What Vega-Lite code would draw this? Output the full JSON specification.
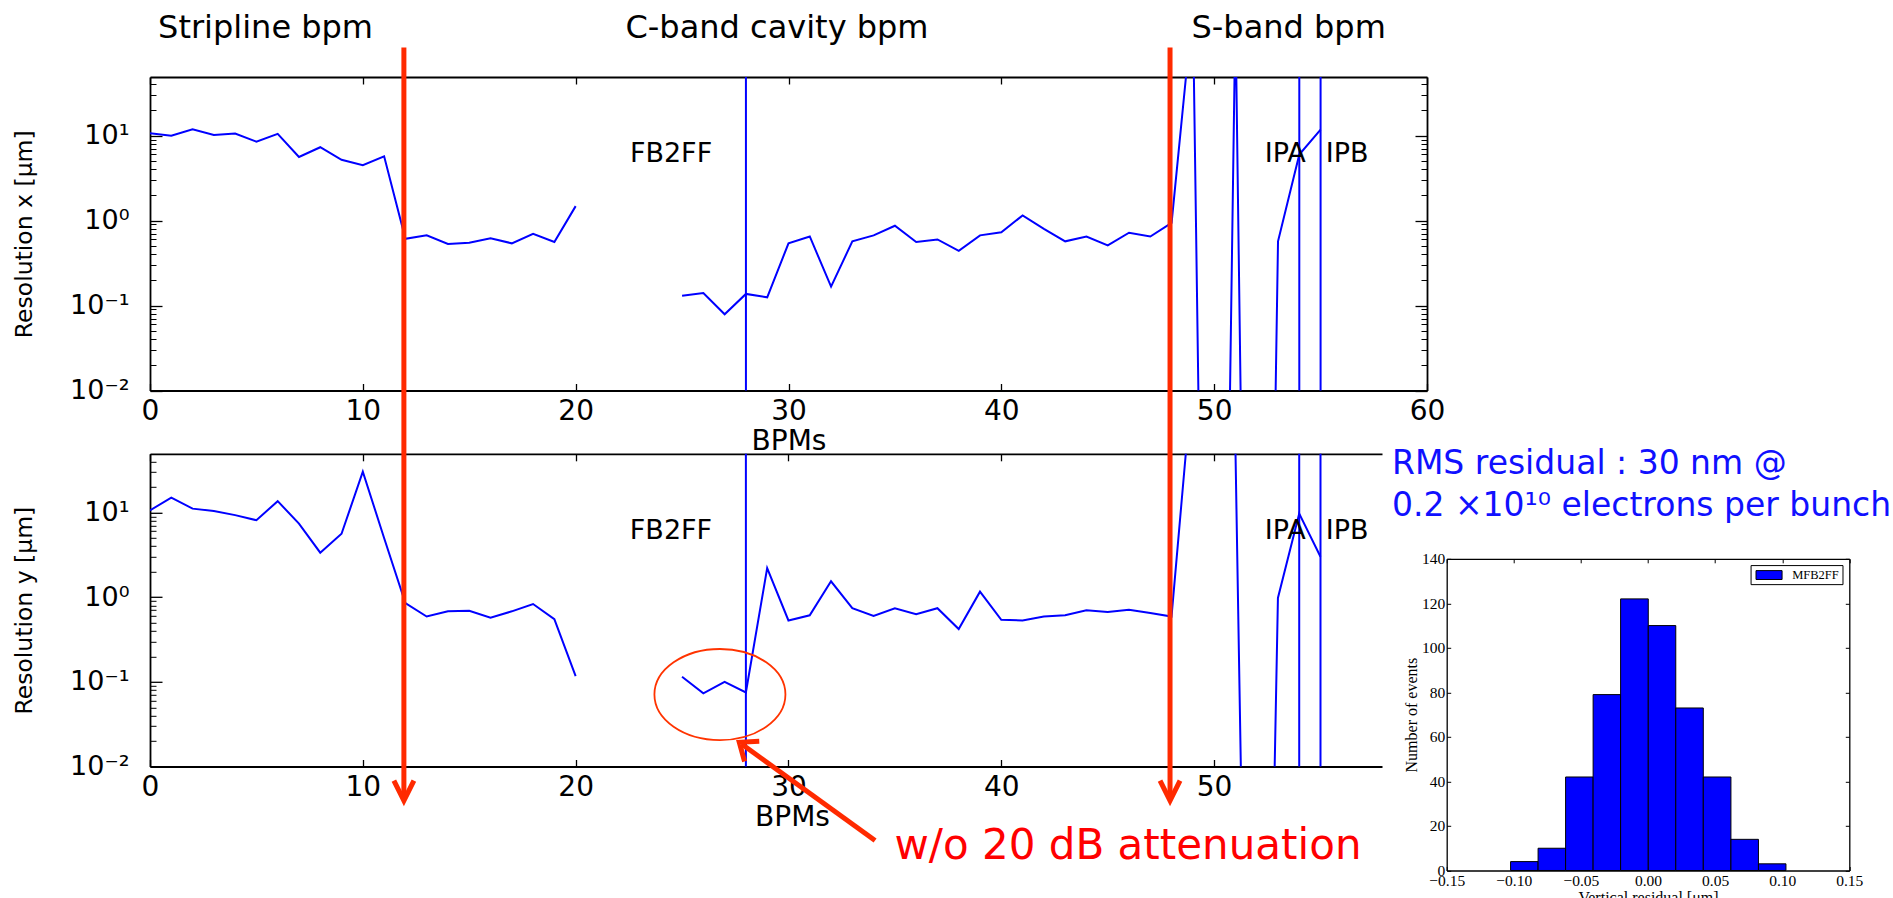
{
 "$schema": "https://vega.github.io/schema/vega-lite/v6.json",
 "background": "white",
 "padding": {"left": 12, "top": 12, "right": 0, "bottom": 0},
 "autosize": {"type": "pad"},
 "columns": 2,
 "spacing": {"row": 62.8, "column": 19.7},
 "bounds": "flush",
 "align": "each",
 "config": {
  "view": {"stroke": null},
  "axis": {"grid": false, "domainColor": "black", "domainWidth": 1.8, "tickColor": "black", "tickWidth": 1.3, "labelColor": "black", "titleColor": "black", "labelFont": "DejaVu Sans", "titleFont": "DejaVu Sans", "titleFontWeight": "normal", "labelOverlap": false, "labelFlush": false}
 },
 "concat": [
  {
   "width": 1277, "height": 313.5,
   "resolve": {"axis": {"x": "independent", "y": "independent"}},
   "layer": [
    {
     "data": {"values": [
      {"bpm":0,"res":10.7,"seg":"a"},{"bpm":1,"res":10.0,"seg":"a"},{"bpm":2,"res":11.9,"seg":"a"},{"bpm":3,"res":10.2,"seg":"a"},{"bpm":4,"res":10.6,"seg":"a"},{"bpm":5,"res":8.5,"seg":"a"},{"bpm":6,"res":10.5,"seg":"a"},{"bpm":7,"res":5.6,"seg":"a"},{"bpm":8,"res":7.3,"seg":"a"},{"bpm":9,"res":5.2,"seg":"a"},{"bpm":10,"res":4.5,"seg":"a"},{"bpm":11,"res":5.7,"seg":"a"},{"bpm":12,"res":0.61,"seg":"a"},{"bpm":13,"res":0.67,"seg":"a"},{"bpm":14,"res":0.53,"seg":"a"},{"bpm":15,"res":0.55,"seg":"a"},{"bpm":16,"res":0.62,"seg":"a"},{"bpm":17,"res":0.54,"seg":"a"},{"bpm":18,"res":0.70,"seg":"a"},{"bpm":19,"res":0.56,"seg":"a"},{"bpm":20,"res":1.48,"seg":"a"},
      {"bpm":25,"res":0.13,"seg":"b"},{"bpm":26,"res":0.14,"seg":"b"},{"bpm":27,"res":0.079,"seg":"b"},{"bpm":28,"res":0.137,"seg":"b"},{"bpm":29,"res":0.125,"seg":"b"},{"bpm":30,"res":0.54,"seg":"b"},{"bpm":31,"res":0.65,"seg":"b"},{"bpm":32,"res":0.167,"seg":"b"},{"bpm":33,"res":0.57,"seg":"b"},{"bpm":34,"res":0.67,"seg":"b"},{"bpm":35,"res":0.87,"seg":"b"},{"bpm":36,"res":0.56,"seg":"b"},{"bpm":37,"res":0.60,"seg":"b"},{"bpm":38,"res":0.44,"seg":"b"},{"bpm":39,"res":0.67,"seg":"b"},{"bpm":40,"res":0.73,"seg":"b"},{"bpm":41,"res":1.15,"seg":"b"},{"bpm":42,"res":0.80,"seg":"b"},{"bpm":43,"res":0.57,"seg":"b"},{"bpm":44,"res":0.65,"seg":"b"},{"bpm":45,"res":0.51,"seg":"b"},{"bpm":46,"res":0.72,"seg":"b"},{"bpm":47,"res":0.65,"seg":"b"},{"bpm":48,"res":0.94,"seg":"b"},{"bpm":49,"res":330,"seg":"b"},{"bpm":50,"res":1e-15,"seg":"b"},{"bpm":51,"res":280,"seg":"b"},{"bpm":52,"res":1e-16,"seg":"b"},{"bpm":53,"res":0.57,"seg":"b"},{"bpm":54,"res":6.0,"seg":"b"},{"bpm":55,"res":11.8,"seg":"b"}
     ]},
     "mark": {"type": "line", "color": "#0000ff", "strokeWidth": 2, "clip": true},
     "encoding": {
      "x": {"field": "bpm", "type": "quantitative", "scale": {"domain": [0, 60], "nice": false, "zero": false},
            "axis": {"orient": "bottom", "values": [0,10,20,30,40,50,60], "ticks": false, "labelFontSize": 28, "labelPadding": 7, "title": "BPMs", "titleFontSize": 28, "titlePadding": 2}},
      "y": {"field": "res", "type": "quantitative", "scale": {"type": "log", "domain": [0.01, 49], "nice": false},
            "axis": {"orient": "left", "values": [0.01,0.1,1,10], "labelExpr": "datum.value >= 5 ? '10¹' : datum.value >= 0.5 ? '10⁰' : datum.value >= 0.05 ? '10⁻¹' : '10⁻²'", "ticks": false, "labelFontSize": 27, "labelPadding": 21, "labelBaseline": "middle", "title": "Resolution x [μm]", "titleFontSize": 23.5, "titlePadding": 33}},
      "detail": {"field": "seg", "type": "nominal"}
     }
    },
    {
     "data": {"values": [{"bpm": 28}, {"bpm": 54}, {"bpm": 55}]},
     "mark": {"type": "rule", "color": "#0000ff", "strokeWidth": 2},
     "encoding": {"x": {"field": "bpm", "type": "quantitative", "scale": {"domain": [0, 60], "nice": false, "zero": false}, "axis": null}}
    },
    {
     "data": {"values": [{"bpm": 24.48, "res": 6.0, "t": "FB2FF"}, {"bpm": 53.34, "res": 6.0, "t": "IPA"}, {"bpm": 56.25, "res": 6.0, "t": "IPB"}]},
     "mark": {"type": "text", "font": "DejaVu Sans", "fontSize": 27, "color": "black", "align": "center", "baseline": "middle"},
     "encoding": {
      "x": {"field": "bpm", "type": "quantitative", "scale": {"domain": [0, 60], "nice": false, "zero": false}, "axis": null},
      "y": {"field": "res", "type": "quantitative", "scale": {"type": "log", "domain": [0.01, 49], "nice": false}, "axis": null},
      "text": {"field": "t"}
     }
    },
    {
     "data": {"values": [{"bpm": 5.43, "res": 141, "t": "Stripline bpm"}, {"bpm": 29.46, "res": 141, "t": "C-band cavity bpm"}, {"bpm": 53.5, "res": 141, "t": "S-band bpm"}]},
     "mark": {"type": "text", "font": "DejaVu Sans", "fontSize": 32, "color": "black", "align": "center", "baseline": "alphabetic"},
     "encoding": {
      "x": {"field": "bpm", "type": "quantitative", "scale": {"domain": [0, 60], "nice": false, "zero": false}, "axis": null},
      "y": {"field": "res", "type": "quantitative", "scale": {"type": "log", "domain": [0.01, 49], "nice": false}, "axis": null},
      "text": {"field": "t"}
     }
    },
    {
     "data": {"values": [{"bpm": 30, "res": 1}]},
     "mark": {"type": "point", "opacity": 0},
     "encoding": {
      "x": {"field": "bpm", "type": "quantitative", "scale": {"domain": [0, 60], "nice": false, "zero": false},
            "axis": {"orient": "bottom", "values": [0,10,20,30,40,50,60], "labels": false, "domain": false, "ticks": true, "tickSize": -7, "title": null}},
      "y": {"field": "res", "type": "quantitative", "scale": {"type": "log", "domain": [0.01, 49], "nice": false},
            "axis": {"orient": "left", "values": [0.01,0.1,1,10], "labels": false, "domain": false, "ticks": true, "tickSize": -12, "title": null}}
     }
    },
    {
     "data": {"values": [{"bpm": 30, "res": 1}]},
     "mark": {"type": "point", "opacity": 0},
     "encoding": {
      "x": {"field": "bpm", "type": "quantitative", "scale": {"domain": [0, 60], "nice": false, "zero": false},
            "axis": {"orient": "top", "values": [0,10,20,30,40,50,60], "labels": false, "domain": true, "ticks": true, "tickSize": -7, "title": null}},
      "y": {"field": "res", "type": "quantitative", "scale": {"type": "log", "domain": [0.01, 49], "nice": false},
            "axis": {"orient": "left", "values": [0.02,0.03,0.04,0.05,0.06,0.07,0.08,0.09,0.2,0.3,0.4,0.5,0.6,0.7,0.8,0.9,2,3,4,5,6,7,8,9,20,30,40], "labels": false, "domain": false, "ticks": true, "tickSize": -6, "tickWidth": 1, "title": null}}
     }
    },
    {
     "data": {"values": [{"bpm": 30, "res": 1}]},
     "mark": {"type": "point", "opacity": 0},
     "encoding": {
      "x": {"field": "bpm", "type": "quantitative", "scale": {"domain": [0, 60], "nice": false, "zero": false}, "axis": null},
      "y": {"field": "res", "type": "quantitative", "scale": {"type": "log", "domain": [0.01, 49], "nice": false},
            "axis": {"orient": "right", "values": [0.01,0.1,1,10], "labels": false, "domain": true, "ticks": true, "tickSize": -12, "title": null}}
     }
    },
    {
     "data": {"values": [{"bpm": 30, "res": 1}]},
     "mark": {"type": "point", "opacity": 0},
     "encoding": {
      "x": {"field": "bpm", "type": "quantitative", "scale": {"domain": [0, 60], "nice": false, "zero": false}, "axis": null},
      "y": {"field": "res", "type": "quantitative", "scale": {"type": "log", "domain": [0.01, 49], "nice": false},
            "axis": {"orient": "right", "values": [0.02,0.03,0.04,0.05,0.06,0.07,0.08,0.09,0.2,0.3,0.4,0.5,0.6,0.7,0.8,0.9,2,3,4,5,6,7,8,9,20,30,40], "labels": false, "domain": false, "ticks": true, "tickSize": -6, "tickWidth": 1, "title": null}}
     }
    }
   ]
  },
  {
   "width": 1, "height": 1,
   "data": {"values": [{"a": 0}]},
   "mark": {"type": "point", "opacity": 0}
  },
  {
   "width": 1232, "height": 312.7,
   "resolve": {"axis": {"x": "independent", "y": "independent"}},
   "layer": [
    {
     "data": {"values": [
      {"bpm":0,"res":10.6,"seg":"a"},{"bpm":1,"res":15.0,"seg":"a"},{"bpm":2,"res":11.1,"seg":"a"},{"bpm":3,"res":10.4,"seg":"a"},{"bpm":4,"res":9.3,"seg":"a"},{"bpm":5,"res":8.1,"seg":"a"},{"bpm":6,"res":13.6,"seg":"a"},{"bpm":7,"res":7.4,"seg":"a"},{"bpm":8,"res":3.35,"seg":"a"},{"bpm":9,"res":5.6,"seg":"a"},{"bpm":10,"res":30.3,"seg":"a"},{"bpm":11,"res":5.0,"seg":"a"},{"bpm":12,"res":0.85,"seg":"a"},{"bpm":13,"res":0.59,"seg":"a"},{"bpm":14,"res":0.68,"seg":"a"},{"bpm":15,"res":0.69,"seg":"a"},{"bpm":16,"res":0.57,"seg":"a"},{"bpm":17,"res":0.68,"seg":"a"},{"bpm":18,"res":0.83,"seg":"a"},{"bpm":19,"res":0.55,"seg":"a"},{"bpm":20,"res":0.117,"seg":"a"},
      {"bpm":25,"res":0.115,"seg":"b"},{"bpm":26,"res":0.073,"seg":"b"},{"bpm":27,"res":0.10,"seg":"b"},{"bpm":28,"res":0.075,"seg":"b"},{"bpm":29,"res":2.2,"seg":"b"},{"bpm":30,"res":0.53,"seg":"b"},{"bpm":31,"res":0.61,"seg":"b"},{"bpm":32,"res":1.54,"seg":"b"},{"bpm":33,"res":0.74,"seg":"b"},{"bpm":34,"res":0.60,"seg":"b"},{"bpm":35,"res":0.74,"seg":"b"},{"bpm":36,"res":0.63,"seg":"b"},{"bpm":37,"res":0.74,"seg":"b"},{"bpm":38,"res":0.42,"seg":"b"},{"bpm":39,"res":1.16,"seg":"b"},{"bpm":40,"res":0.54,"seg":"b"},{"bpm":41,"res":0.53,"seg":"b"},{"bpm":42,"res":0.59,"seg":"b"},{"bpm":43,"res":0.61,"seg":"b"},{"bpm":44,"res":0.70,"seg":"b"},{"bpm":45,"res":0.67,"seg":"b"},{"bpm":46,"res":0.71,"seg":"b"},{"bpm":47,"res":0.65,"seg":"b"},{"bpm":48,"res":0.59,"seg":"b"},{"bpm":49,"res":436,"seg":"b"},{"bpm":50,"res":500,"seg":"b"},{"bpm":51,"res":63,"seg":"b"},{"bpm":52,"res":1e-13,"seg":"b"},{"bpm":53,"res":0.98,"seg":"b"},{"bpm":54,"res":9.7,"seg":"b"},{"bpm":55,"res":3.0,"seg":"b"}
     ]},
     "mark": {"type": "line", "color": "#0000ff", "strokeWidth": 2, "clip": true},
     "encoding": {
      "x": {"field": "bpm", "type": "quantitative", "scale": {"domain": [0, 57.89], "nice": false, "zero": false},
            "axis": {"orient": "bottom", "values": [0,10,20,30,40,50], "ticks": false, "labelFontSize": 28, "labelPadding": 7, "title": "BPMs", "titleFontSize": 28, "titleX": 642, "titleY": 37, "titleBaseline": "top", "titleAlign": "center"}},
      "y": {"field": "res", "type": "quantitative", "scale": {"type": "log", "domain": [0.01, 49.3], "nice": false},
            "axis": {"orient": "left", "values": [0.01,0.1,1,10], "labelExpr": "datum.value >= 5 ? '10¹' : datum.value >= 0.5 ? '10⁰' : datum.value >= 0.05 ? '10⁻¹' : '10⁻²'", "ticks": false, "labelFontSize": 27, "labelPadding": 21, "labelBaseline": "middle", "title": "Resolution y [μm]", "titleFontSize": 23.5, "titlePadding": 33}},
      "detail": {"field": "seg", "type": "nominal"}
     }
    },
    {
     "data": {"values": [{"bpm": 28}, {"bpm": 54}, {"bpm": 55}]},
     "mark": {"type": "rule", "color": "#0000ff", "strokeWidth": 2},
     "encoding": {"x": {"field": "bpm", "type": "quantitative", "scale": {"domain": [0, 57.89], "nice": false, "zero": false}, "axis": null}}
    },
    {
     "data": {"values": [{"bpm": 24.48, "res": 6.1, "t": "FB2FF"}, {"bpm": 53.34, "res": 6.1, "t": "IPA"}, {"bpm": 56.25, "res": 6.1, "t": "IPB"}]},
     "mark": {"type": "text", "font": "DejaVu Sans", "fontSize": 27, "color": "black", "align": "center", "baseline": "middle"},
     "encoding": {
      "x": {"field": "bpm", "type": "quantitative", "scale": {"domain": [0, 57.89], "nice": false, "zero": false}, "axis": null},
      "y": {"field": "res", "type": "quantitative", "scale": {"type": "log", "domain": [0.01, 49.3], "nice": false}, "axis": null},
      "text": {"field": "t"}
     }
    },
    {
     "data": {"values": [{"bpm": 26.78, "res": 0.0708}]},
     "mark": {"type": "point", "shape": "M-1,0A1,0.695,0,1,0,1,0A1,0.695,0,1,0,-1,0Z", "size": 17161, "filled": false, "stroke": "#ff3300", "strokeWidth": 1.8, "opacity": 1},
     "encoding": {
      "x": {"field": "bpm", "type": "quantitative", "scale": {"domain": [0, 57.89], "nice": false, "zero": false}, "axis": null},
      "y": {"field": "res", "type": "quantitative", "scale": {"type": "log", "domain": [0.01, 49.3], "nice": false}, "axis": null}
     }
    },
    {
     "data": {"values": [{"bpm": 34.07, "res": 0.001336, "bpm2": 27.80, "res2": 0.01841}]},
     "mark": {"type": "rule", "color": "#ff2a00", "strokeWidth": 5},
     "encoding": {
      "x": {"field": "bpm", "type": "quantitative", "scale": {"domain": [0, 57.89], "nice": false, "zero": false}, "axis": null},
      "y": {"field": "res", "type": "quantitative", "scale": {"type": "log", "domain": [0.01, 49.3], "nice": false}, "axis": null},
      "x2": {"field": "bpm2"},
      "y2": {"field": "res2"}
     }
    },
    {
     "data": {"values": [{"bpm": 27.69, "res": 0.01934}]},
     "mark": {"type": "point", "shape": "M-0.8,-1L0,0L0.8,-1", "size": 975, "filled": false, "stroke": "#ff2a00", "strokeWidth": 5, "strokeJoin": "miter", "angle": 126, "opacity": 1},
     "encoding": {
      "x": {"field": "bpm", "type": "quantitative", "scale": {"domain": [0, 57.89], "nice": false, "zero": false}, "axis": null},
      "y": {"field": "res", "type": "quantitative", "scale": {"type": "log", "domain": [0.01, 49.3], "nice": false}, "axis": null}
     }
    },
    {
     "data": {"values": [{"bpm": 34.98, "res": 0.000818, "t": "w/o 20 dB attenuation"}]},
     "mark": {"type": "text", "font": "DejaVu Sans", "fontSize": 42, "color": "#ff0000", "align": "left", "baseline": "alphabetic"},
     "encoding": {
      "x": {"field": "bpm", "type": "quantitative", "scale": {"domain": [0, 57.89], "nice": false, "zero": false}, "axis": null},
      "y": {"field": "res", "type": "quantitative", "scale": {"type": "log", "domain": [0.01, 49.3], "nice": false}, "axis": null},
      "text": {"field": "t"}
     }
    },
    {
     "data": {"values": [{"bpm": 11.93, "res": 3.09e6, "res2": 0.00442}, {"bpm": 47.93, "res": 3.09e6, "res2": 0.00442}]},
     "mark": {"type": "rule", "color": "#ff2a00", "strokeWidth": 5},
     "encoding": {
      "x": {"field": "bpm", "type": "quantitative", "scale": {"domain": [0, 57.89], "nice": false, "zero": false}, "axis": null},
      "y": {"field": "res", "type": "quantitative", "scale": {"type": "log", "domain": [0.01, 49.3], "nice": false}, "axis": null},
      "y2": {"field": "res2"}
     }
    },
    {
     "data": {"values": [{"bpm": 11.93, "res": 0.00396}, {"bpm": 47.93, "res": 0.00396}]},
     "mark": {"type": "point", "shape": "M-0.5,-1L0,0L0.5,-1", "size": 1600, "filled": false, "stroke": "#ff2a00", "strokeWidth": 5, "strokeJoin": "miter", "opacity": 1},
     "encoding": {
      "x": {"field": "bpm", "type": "quantitative", "scale": {"domain": [0, 57.89], "nice": false, "zero": false}, "axis": null},
      "y": {"field": "res", "type": "quantitative", "scale": {"type": "log", "domain": [0.01, 49.3], "nice": false}, "axis": null}
     }
    },
    {
     "data": {"values": [{"bpm": 30, "res": 1}]},
     "mark": {"type": "point", "opacity": 0},
     "encoding": {
      "x": {"field": "bpm", "type": "quantitative", "scale": {"domain": [0, 57.89], "nice": false, "zero": false},
            "axis": {"orient": "bottom", "values": [0,10,20,30,40,50], "labels": false, "domain": false, "ticks": true, "tickSize": -7, "title": null}},
      "y": {"field": "res", "type": "quantitative", "scale": {"type": "log", "domain": [0.01, 49.3], "nice": false},
            "axis": {"orient": "left", "values": [0.01,0.1,1,10], "labels": false, "domain": false, "ticks": true, "tickSize": -12, "title": null}}
     }
    },
    {
     "data": {"values": [{"bpm": 30, "res": 1}]},
     "mark": {"type": "point", "opacity": 0},
     "encoding": {
      "x": {"field": "bpm", "type": "quantitative", "scale": {"domain": [0, 57.89], "nice": false, "zero": false},
            "axis": {"orient": "top", "values": [0,10,20,30,40,50], "labels": false, "domain": true, "ticks": true, "tickSize": -7, "title": null}},
      "y": {"field": "res", "type": "quantitative", "scale": {"type": "log", "domain": [0.01, 49.3], "nice": false},
            "axis": {"orient": "left", "values": [0.02,0.03,0.04,0.05,0.06,0.07,0.08,0.09,0.2,0.3,0.4,0.5,0.6,0.7,0.8,0.9,2,3,4,5,6,7,8,9,20,30,40], "labels": false, "domain": false, "ticks": true, "tickSize": -6, "tickWidth": 1, "title": null}}
     }
    }
   ]
  },
  {
   "width": 402.6, "height": 416.7,
   "resolve": {"axis": {"x": "independent", "y": "independent"}},
   "layer": [
    {
     "data": {"values": [
      {"lo":-0.1024,"hi":-0.0819,"n":4},{"lo":-0.0819,"hi":-0.0614,"n":10},{"lo":-0.0614,"hi":-0.0409,"n":42},{"lo":-0.0409,"hi":-0.0204,"n":79},{"lo":-0.0204,"hi":0.0002,"n":122},{"lo":0.0002,"hi":0.0207,"n":110},{"lo":0.0207,"hi":0.0412,"n":73},{"lo":0.0412,"hi":0.0618,"n":42},{"lo":0.0618,"hi":0.0823,"n":14},{"lo":0.0823,"hi":0.1028,"n":3}
     ]},
     "mark": {"type": "rect", "fill": "#0000ff", "stroke": "black", "strokeWidth": 1},
     "encoding": {
      "x": {"field": "lo", "type": "quantitative", "scale": {"domain": [-0.15, 0.15], "nice": false, "zero": false},
            "axis": {"orient": "bottom", "values": [-0.15,-0.1,-0.05,0,0.05,0.1,0.15], "format": ".2f", "ticks": false, "domainWidth": 1.3, "labelFont": "Liberation Serif", "labelFontSize": 15.5, "labelPadding": 3, "title": "Vertical residual [μm]", "titleFont": "Liberation Serif", "titleFontSize": 16, "titlePadding": 0}},
      "x2": {"field": "hi"},
      "y": {"field": "n", "type": "quantitative", "scale": {"domain": [0, 140], "range": [416.7, 105], "nice": false},
            "axis": {"orient": "left", "values": [0,20,40,60,80,100,120,140], "ticks": false, "domainWidth": 1.3, "labelFont": "Liberation Serif", "labelFontSize": 15.5, "labelPadding": 2, "labelBaseline": "middle", "title": "Number of events", "titleFont": "Liberation Serif", "titleFontSize": 16, "titlePadding": 2}},
      "y2": {"datum": 0}
     }
    },
    {
     "data": {"values": [{"lo": 0, "n": 50}]},
     "mark": {"type": "point", "opacity": 0},
     "encoding": {
      "x": {"field": "lo", "type": "quantitative", "scale": {"domain": [-0.15, 0.15], "nice": false, "zero": false},
            "axis": {"orient": "bottom", "values": [-0.15,-0.1,-0.05,0,0.05,0.1,0.15], "labels": false, "domain": false, "ticks": true, "tickSize": -4, "tickWidth": 1, "title": null}},
      "y": {"field": "n", "type": "quantitative", "scale": {"domain": [0, 140], "range": [416.7, 105], "nice": false},
            "axis": {"orient": "left", "values": [0,20,40,60,80,100,120,140], "labels": false, "domain": false, "ticks": true, "tickSize": -4, "tickWidth": 1, "title": null}}
     }
    },
    {
     "data": {"values": [{"lo": 0, "n": 50}]},
     "mark": {"type": "point", "opacity": 0},
     "encoding": {
      "x": {"field": "lo", "type": "quantitative", "scale": {"domain": [-0.15, 0.15], "nice": false, "zero": false},
            "axis": {"orient": "top", "offset": -105, "values": [-0.15,-0.1,-0.05,0,0.05,0.1,0.15], "labels": false, "domain": true, "domainWidth": 1.3, "ticks": true, "tickSize": -4, "tickWidth": 1, "title": null}},
      "y": {"field": "n", "type": "quantitative", "scale": {"domain": [0, 140], "range": [416.7, 105], "nice": false},
            "axis": {"orient": "right", "values": [0,20,40,60,80,100,120,140], "labels": false, "domain": true, "domainWidth": 1.3, "ticks": true, "tickSize": -4, "tickWidth": 1, "title": null}}
     }
    },
    {
     "data": {"values": [{"x1": 0.0768, "x2": 0.1453, "y1": 128.4, "y2": 136.95, "f": "white"}, {"x1": 0.0805, "x2": 0.0999, "y1": 130.7, "y2": 134.7, "f": "#0000ff"}]},
     "mark": {"type": "rect", "stroke": "black", "strokeWidth": 1},
     "encoding": {
      "x": {"field": "x1", "type": "quantitative", "scale": {"domain": [-0.15, 0.15], "nice": false, "zero": false}, "axis": null},
      "x2": {"field": "x2"},
      "y": {"field": "y1", "type": "quantitative", "scale": {"domain": [0, 140], "range": [416.7, 105], "nice": false}, "axis": null},
      "y2": {"field": "y2"},
      "fill": {"field": "f", "type": "nominal", "scale": null}
     }
    },
    {
     "data": {"values": [{"x": 0.1074, "y": 132.6, "t": "MFB2FF"}]},
     "mark": {"type": "text", "font": "Liberation Serif", "fontSize": 12.5, "color": "black", "align": "left", "baseline": "middle"},
     "encoding": {
      "x": {"field": "x", "type": "quantitative", "scale": {"domain": [-0.15, 0.15], "nice": false, "zero": false}, "axis": null},
      "y": {"field": "y", "type": "quantitative", "scale": {"domain": [0, 140], "range": [416.7, 105], "nice": false}, "axis": null},
      "text": {"field": "t"}
     }
    },
    {
     "data": {"values": [{"x": -0.1908, "y": 178.3, "t": "RMS residual : 30 nm @"}, {"x": -0.1908, "y": 159.4, "t": "0.2 ×10¹⁰ electrons per bunch"}]},
     "mark": {"type": "text", "font": "DejaVu Sans", "fontSize": 33, "color": "#1010ff", "align": "left", "baseline": "alphabetic"},
     "encoding": {
      "x": {"field": "x", "type": "quantitative", "scale": {"domain": [-0.15, 0.15], "nice": false, "zero": false}, "axis": null},
      "y": {"field": "y", "type": "quantitative", "scale": {"domain": [0, 140], "range": [416.7, 105], "nice": false}, "axis": null},
      "text": {"field": "t"}
     }
    }
   ]
  }
 ]
}
